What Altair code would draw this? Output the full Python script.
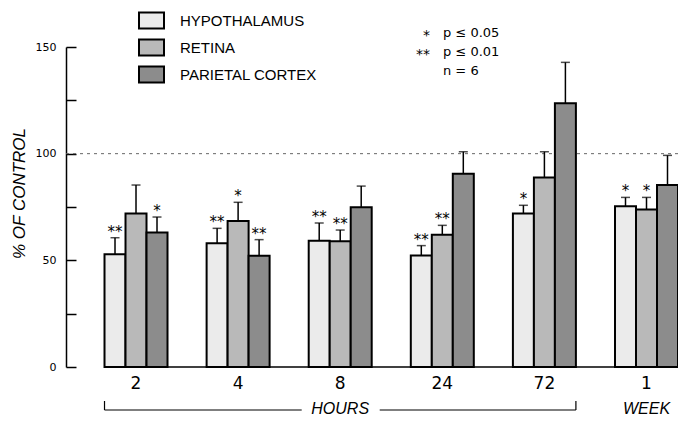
import altair as alt
import pandas as pd

groups = ["2", "4", "8", "24", "72", "1"]
regions = ["HYPOTHALAMUS", "RETINA", "PARIETAL CORTEX"]
region_colors = ["#ebebeb", "#b9b9b9", "#8c8c8c"]

hypothalamus = [52.8, 58.0, 59.2, 52.3, 71.9, 75.3]
hypothalamus_sem = [7.8, 7.0, 8.3, 4.6, 3.9, 4.2]
hypothalamus_sig = ["**", "**", "**", "**", "*", "*"]

retina = [72.0, 68.4, 58.9, 62.0, 88.8, 73.8]
retina_sem = [13.3, 8.8, 5.3, 4.4, 12.1, 5.7]
retina_sig = ["", "*", "**", "**", "", "*"]

parietal = [63.1, 52.2, 74.9, 90.6, 123.6, 85.3]
parietal_sem = [7.2, 7.5, 9.9, 10.3, 19.2, 13.9]
parietal_sig = ["*", "**", "", "", "", ""]

y_ticks = [0, 25, 50, 75, 100, 125, 150]
key_stars = ["*", "**"]
key_text = ["p \u2264 0.05", "p \u2264 0.01", "n =  6"]

rows = []
for name, vals, sems, sigs in [
    (regions[0], hypothalamus, hypothalamus_sem, hypothalamus_sig),
    (regions[1], retina, retina_sem, retina_sig),
    (regions[2], parietal, parietal_sem, parietal_sig),
]:
    for g, v, s, sg in zip(groups, vals, sems, sigs):
        rows.append({"group": g, "region": name, "mean": v, "sem": s, "sig": sg})
df = pd.DataFrame(rows)

FONT = "Liberation Sans"
WIDE = "DejaVu Sans"

x_enc = alt.X(
    "group:N",
    sort=groups,
    scale=alt.Scale(paddingInner=0.383, paddingOuter=0.1886, align=1, round=False),
    axis=alt.Axis(title=None, domain=False, ticks=False, labelAngle=0,
                  labelFontSize=17, labelFont=WIDE, labelColor="black",
                  labelPadding=8),
)
xo_enc = alt.XOffset("region:N", sort=regions,
                     scale=alt.Scale(paddingInner=0, paddingOuter=0))
y_scale = alt.Scale(domain=[0, 150], nice=False)

base = alt.Chart(df)

ref100 = alt.Chart(pd.DataFrame({"v": [100]})).mark_rule(
    color="#666", strokeWidth=1, strokeDash=[3, 4]
).encode(y=alt.Y("v:Q", scale=y_scale))

bars = base.mark_bar(stroke="black", strokeWidth=2).encode(
    x=x_enc,
    xOffset=xo_enc,
    y=alt.Y("mean:Q", scale=y_scale,
            axis=alt.Axis(values=y_ticks,
                          labelExpr="datum.value % 50 == 0 ? datum.label : ''",
                          tickSize={"expr": "-10"}, tickWidth=1.5, tickColor="black",
                          domainColor="black", domainWidth=1.5, grid=False,
                          labelFontSize=11, labelFont=WIDE, labelColor="black",
                          labelPadding=20,
                          title="% OF CONTROL", titleFont=FONT, titleFontSize=17,
                          titleFontStyle="italic", titleFontWeight="normal",
                          titleColor="black", titleAngle=-90, titleX=-47, titleY=146,
                          titleAlign="center", titleBaseline="middle")),
    color=alt.Color("region:N", sort=regions,
                    scale=alt.Scale(domain=regions, range=region_colors),
                    legend=alt.Legend(title=None, orient="none", legendX=72, legendY=-40,
                                      symbolType="M-1,-0.64L1,-0.64L1,0.64L-1,0.64Z",
                                      symbolSize=625, symbolStrokeColor="black",
                                      symbolStrokeWidth=2, symbolOpacity=1,
                                      labelFont=FONT, labelFontSize=15, labelColor="black",
                                      labelOffset=15, rowPadding=1, padding=0)),
)

err = base.transform_calculate(top="datum.mean + datum.sem")
err_rule = err.mark_rule(color="black", strokeWidth=1.5).encode(
    x=alt.X("group:N", sort=groups), xOffset=alt.XOffset("region:N", sort=regions),
    y=alt.Y("mean:Q", scale=y_scale), y2="top:Q")
err_cap = err.mark_tick(color="black", thickness=1.5, size=9).encode(
    x=alt.X("group:N", sort=groups), xOffset=alt.XOffset("region:N", sort=regions),
    y=alt.Y("top:Q", scale=y_scale))
stars = err.mark_text(fontSize=15, font=WIDE, baseline="alphabetic", dy=-1,
                      color="black").encode(
    x=alt.X("group:N", sort=groups), xOffset=alt.XOffset("region:N", sort=regions),
    y=alt.Y("top:Q", scale=y_scale), text="sig:N")

baseline = alt.Chart(pd.DataFrame({"v": [0]})).mark_rule(
    color="black", strokeWidth=1.5
).encode(
    x=alt.value({"expr": "scale('x', '2')"}),
    x2=alt.value("width"),
    y=alt.Y("v:Q", scale=y_scale),
)

one = pd.DataFrame({"a": [0]})
BR_Y = 363
bracket_left = alt.Chart(one).mark_rule(color="black", strokeWidth=1.2).encode(
    x=alt.value({"expr": "scale('x', '2')"}),
    x2=alt.value({"expr": "scale('x', '8') - 7"}),
    y=alt.value(BR_Y))
bracket_right = alt.Chart(one).mark_rule(color="black", strokeWidth=1.2).encode(
    x=alt.value({"expr": "scale('x', '8') + bandwidth('x') + 8"}),
    x2=alt.value({"expr": "scale('x', '72') + bandwidth('x')"}),
    y=alt.value(BR_Y))
tick_left = alt.Chart(one).mark_rule(color="black", strokeWidth=1.2).encode(
    x=alt.value({"expr": "scale('x', '2')"}),
    y=alt.value(BR_Y - 9), y2=alt.value(BR_Y))
tick_right = alt.Chart(one).mark_rule(color="black", strokeWidth=1.2).encode(
    x=alt.value({"expr": "scale('x', '72') + bandwidth('x')"}),
    y=alt.value(BR_Y - 9), y2=alt.value(BR_Y))
hours = alt.Chart(one).mark_text(text="HOURS", fontSize=16, font=FONT,
                                 fontStyle="italic", color="black",
                                 baseline="middle").encode(
    x=alt.value({"expr": "scale('x', '8') + bandwidth('x') / 2"}),
    y=alt.value(BR_Y - 1))
week = alt.Chart(one).mark_text(text="WEEK", fontSize=16, font=FONT,
                                fontStyle="italic", color="black",
                                baseline="middle").encode(
    x=alt.value({"expr": "scale('x', '1') + bandwidth('x') / 2"}),
    y=alt.value(BR_Y - 1))

key_layers = []
for i, s in enumerate(key_stars):
    key_layers.append(alt.Chart(one).mark_text(
        text=s, fontSize=14, font=WIDE, align="right", baseline="middle",
        color="black", dy=3).encode(x=alt.value(364), y=alt.value(-14 + 19 * i)))
for i, t in enumerate(key_text):
    key_layers.append(alt.Chart(one).mark_text(
        text=t, fontSize=13, font=WIDE, align="left", baseline="middle",
        color="black").encode(x=alt.value(377), y=alt.value(-14 + 19 * i)))

chart = alt.layer(
    ref100, bars, baseline, err_rule, err_cap, stars,
    bracket_left, bracket_right, tick_left, tick_right, hours, week, *key_layers
).properties(
    width=612, height=320,
    padding={"left": 58, "top": 39, "right": 0, "bottom": 49},
    autosize=alt.AutoSizeParams(type="none"),
).configure_view(stroke=None)

chart.save("out.html", embed_options={"renderer": "svg", "actions": False})
